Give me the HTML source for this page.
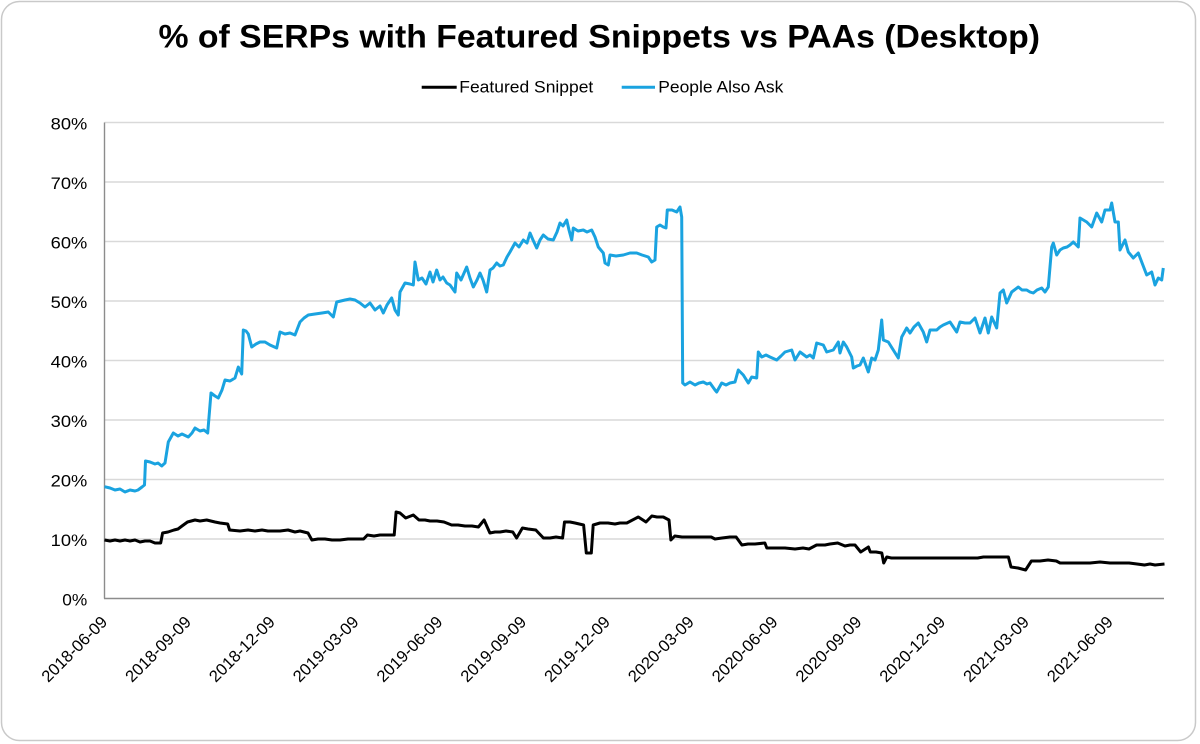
<!DOCTYPE html>
<html>
<head>
<meta charset="utf-8">
<style>
  html, body { margin: 0; padding: 0; background: #ffffff; }
  svg { display: block; }
  text { font-family: "Liberation Sans", "DejaVu Sans", sans-serif; fill: #000; }
</style>
</head>
<body>
<svg width="1200" height="744" viewBox="0 0 1200 744" xmlns="http://www.w3.org/2000/svg">
  <rect x="1.5" y="1.5" width="1194" height="739" rx="18" ry="18" fill="#ffffff" stroke="#c9c9c9" stroke-width="1.5"/>

  <!-- Title -->
  <text x="158.5" y="47.7" font-size="32" font-weight="bold" textLength="881.5" lengthAdjust="spacingAndGlyphs">% of SERPs with Featured Snippets vs PAAs (Desktop)</text>

  <!-- Legend -->
  <line x1="421.7" y1="87.3" x2="456.7" y2="87.3" stroke="#000" stroke-width="3"/>
  <text x="459.3" y="92.7" font-size="16.5" textLength="134" lengthAdjust="spacingAndGlyphs">Featured Snippet</text>
  <line x1="621.7" y1="87.3" x2="655" y2="87.3" stroke="#1aa3e0" stroke-width="3"/>
  <text x="658.3" y="92.7" font-size="16.5" textLength="125" lengthAdjust="spacingAndGlyphs">People Also Ask</text>

  <!-- Gridlines -->
  <g stroke="#d9d9d9" stroke-width="1.5">
    <line x1="104.5" y1="122.5" x2="1164" y2="122.5"/>
    <line x1="104.5" y1="182" x2="1164" y2="182"/>
    <line x1="104.5" y1="241.5" x2="1164" y2="241.5"/>
    <line x1="104.5" y1="301" x2="1164" y2="301"/>
    <line x1="104.5" y1="360.5" x2="1164" y2="360.5"/>
    <line x1="104.5" y1="420" x2="1164" y2="420"/>
    <line x1="104.5" y1="479.5" x2="1164" y2="479.5"/>
    <line x1="104.5" y1="539" x2="1164" y2="539"/>
  </g>
  <!-- Axes -->
  <line x1="104.5" y1="122.5" x2="104.5" y2="598.5" stroke="#8c8c8c" stroke-width="1.4"/>
  <line x1="104" y1="598.5" x2="1164" y2="598.5" stroke="#8c8c8c" stroke-width="1.4"/>

  <!-- Y labels -->
  <g font-size="17" text-anchor="end">
    <text x="87.3" y="129.3" textLength="36.6" lengthAdjust="spacingAndGlyphs">80%</text>
    <text x="87.3" y="188.8" textLength="36.6" lengthAdjust="spacingAndGlyphs">70%</text>
    <text x="87.3" y="248.3" textLength="36.6" lengthAdjust="spacingAndGlyphs">60%</text>
    <text x="87.3" y="307.8" textLength="36.6" lengthAdjust="spacingAndGlyphs">50%</text>
    <text x="87.3" y="367.3" textLength="36.6" lengthAdjust="spacingAndGlyphs">40%</text>
    <text x="87.3" y="426.8" textLength="36.6" lengthAdjust="spacingAndGlyphs">30%</text>
    <text x="87.3" y="486.3" textLength="36.6" lengthAdjust="spacingAndGlyphs">20%</text>
    <text x="87.3" y="545.8" textLength="36.6" lengthAdjust="spacingAndGlyphs">10%</text>
    <text x="87.3" y="605.3" textLength="25" lengthAdjust="spacingAndGlyphs">0%</text>
  </g>

  <!-- X labels -->
  <g font-size="16.5" text-anchor="end">
    <text transform="translate(108.3,623) rotate(-45)" textLength="85" lengthAdjust="spacingAndGlyphs">2018-06-09</text>
    <text transform="translate(192.1,623) rotate(-45)" textLength="85" lengthAdjust="spacingAndGlyphs">2018-09-09</text>
    <text transform="translate(275.9,623) rotate(-45)" textLength="85" lengthAdjust="spacingAndGlyphs">2018-12-09</text>
    <text transform="translate(359.7,623) rotate(-45)" textLength="85" lengthAdjust="spacingAndGlyphs">2019-03-09</text>
    <text transform="translate(443.5,623) rotate(-45)" textLength="85" lengthAdjust="spacingAndGlyphs">2019-06-09</text>
    <text transform="translate(527.3,623) rotate(-45)" textLength="85" lengthAdjust="spacingAndGlyphs">2019-09-09</text>
    <text transform="translate(611.1,623) rotate(-45)" textLength="85" lengthAdjust="spacingAndGlyphs">2019-12-09</text>
    <text transform="translate(694.9,623) rotate(-45)" textLength="85" lengthAdjust="spacingAndGlyphs">2020-03-09</text>
    <text transform="translate(778.7,623) rotate(-45)" textLength="85" lengthAdjust="spacingAndGlyphs">2020-06-09</text>
    <text transform="translate(862.5,623) rotate(-45)" textLength="85" lengthAdjust="spacingAndGlyphs">2020-09-09</text>
    <text transform="translate(946.3,623) rotate(-45)" textLength="85" lengthAdjust="spacingAndGlyphs">2020-12-09</text>
    <text transform="translate(1030.1,623) rotate(-45)" textLength="85" lengthAdjust="spacingAndGlyphs">2021-03-09</text>
    <text transform="translate(1113.9,623) rotate(-45)" textLength="85" lengthAdjust="spacingAndGlyphs">2021-06-09</text>
  </g>

  <!-- People Also Ask -->
  <polyline fill="none" stroke="#1aa3e0" stroke-width="3" stroke-linejoin="round" points="
104.5,486.7 110,488 115,490 120,489 125,492 130,490 135,491 138,490 142,487 144.5,485
145.5,461 150,462 155,464 158,463 161.7,466 165,463 168.3,442 173.3,433 178,436 182,434
188.3,437 192,433 195,428 200,431 204,430 207.7,433 211,393 215,396 218.3,398 222,390
225,380 230,381 235,378 238.3,367 241.7,374 243.3,330 246,331 248.3,334 251.7,347 256,344
260,342 265,342 270,345 276.7,348 280,332 285,334 290,333 295,335 300,322 304,318
308.3,315 315,314 322,313 328.3,312 333.3,317 336.7,302 345,300 350,299 355,300 360,303
365,307 370,303 375,310 380,306 383.3,313 387,305 391.7,298 395,310 398.3,315 400,292
405,283 410,284 413.3,285 415,262 418.3,280 422,278 426,284 430,272 433,282 436.7,270
440,280 443,277 446.7,283 450,285 455,292 456.7,273 461,280 466.7,267 470,278 473.3,287
477,280 480,273 483,280 486.7,292 490,270 493,268 496.7,263 500,266 503.3,265 507,257
510,252 515,243 519,247 523.3,240 527,243 530,233 533,240 536.7,248 540,240 543.3,235
548,239 553.3,240 557,232 560,223 563,226 566.7,220 569,230 571.7,240 573.3,228 578,231
583.3,230 587,232 591.7,230 595,237 598.3,247 603.3,253 605,263 608.3,265 610,255 616,256
623.3,255 630,253 636.7,253 642,255 648.3,257 651.7,262 655,260 656.7,227 660,225 663.3,227
666,228 667.3,210 672,210 676.7,212 680,207 681.7,217 682.7,383 685,385 690,382 695,385
699,383 703.3,382 707,384 710,383 715,390 716.7,392 721.7,383 726,385 730,383 735,382
738.3,370 743.3,375 748.3,383 751.7,377 756.7,378 758.3,352 761.7,357 766,355 770,357 776.7,360
781,356 785,352 791.7,350 795,360 800,352 806.7,357 810,355 813.3,358 816.7,343 823.3,345
826.7,352 833.3,350 838.3,342 840,353 843.3,342 846.7,347 851.7,357 853.3,368 857,366 860,365
863.3,358 868.3,372 871.7,358 875,360 878.3,350 881.7,320 883.3,340 888.3,342 893.3,350 898.3,358
901.7,337 906.7,328 910,333 914,327 918.3,323 923.3,332 926.7,342 930,330 936.7,330 940,327
943.3,325 950,322 956.7,332 960,322 965,323 970,323 975,318 980,333 985,318 988.3,333
991.7,317 996.7,328 1000,293 1003.3,290 1006.7,303 1011.7,292 1018.3,287 1022,290 1026.7,290 1030,292
1033.3,293 1037,290 1041.7,288 1045,292 1048.3,287 1051.7,247 1053.3,243 1056.7,255 1060,250 1063.3,248
1067,247 1070,245 1073.3,242 1078.3,247 1080,218 1086.7,222 1091.7,227 1096.7,213 1101.7,222 1105,210
1110,210 1111.7,203 1115,222 1118.3,222 1120,250 1125,240 1128.3,252 1133.3,258 1138.3,253 1141.7,262
1146.7,275 1151.7,272 1155,285 1158.3,278 1161.7,280 1163.3,268"/>

  <!-- Featured Snippet -->
  <polyline fill="none" stroke="#000000" stroke-width="3" stroke-linejoin="round" points="
104.5,540 110,541 115,540 120,541 125,540 130,541 135,540 140,542 145,541 150,541 155,543 160.7,543
162.6,533 168,532 174,530 178,529 182,526 187.5,522 195,520 200,521 206.7,520 215,522 220,523 227.7,524
229.6,530 240,531 248,530 255,531 262,530 267.9,531 280,531 288,530 295,532 300,531 308,533
311.9,540 318,539 325,539 332,540 340,540 348,539 355,539 363.6,539 367.4,535 374,536 380,535
388,535 394.2,535 396.1,512 400,513 405.7,518 413.3,515 419,520 425,520 430,521 437,521 444,522
451.6,525 458,525 465,526 472,526 478.4,527 484.1,520 489.9,533 495,532 500,532 506,531 512.8,532
516.6,538 522.4,528 528,529 535.8,530 543.4,538 550,538 556,537 562.6,538 564.5,522 570,522 575,523
583.6,525 586.3,553 591.3,553 593.2,525 600,523 608,523 615,524 620,523 626.8,523 638.3,517 646,522
651.8,516 657,517 663.3,517 669,520 670.9,540 674.8,536 682,537 690,537 700,537 711.2,537 715,539
722,538 730,537 736.1,537 741.9,545 748,544 755,544 764.9,543 766.8,548 775,548 785,548 795,549
803,548 809,549 816.6,545 825,545 830,544 837.7,543 845,546 850,545 855,545 860.7,552 868.4,547
870.3,552 876,552 881.8,553 883.7,563 886.8,557 891.4,558 900,558 910,558 920,558 935,558 950,558
965,558 977.7,558 983.4,557 995,557 1008.4,557 1011,567 1018,568 1025.6,570 1031.4,561 1040,561 1048,560
1056.3,561 1060.1,563 1075,563 1090,563 1100,562 1110,563 1120,563 1129.1,563 1137,564 1144.5,565 1150,564
1155,565 1164.5,564"/>
</svg>
</body>
</html>
